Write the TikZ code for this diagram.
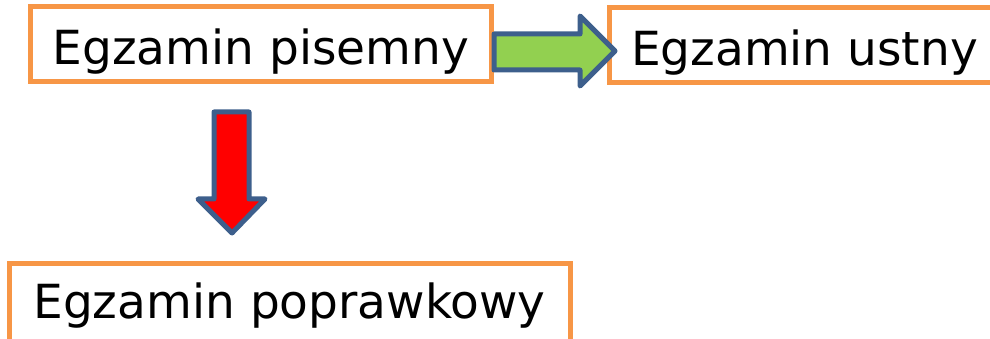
\documentclass[tikz,border=0pt]{standalone}
\usepackage{fontspec}
\setmainfont{DejaVu Sans}
\usepackage{tikz}
\usetikzlibrary{positioning}
\definecolor{boxorange}{HTML}{F79646}
\definecolor{arrowgreen}{HTML}{92D050}
\definecolor{arrowblue}{HTML}{3D5F8C}
\tikzset{
  exambox/.style={draw=boxorange,line width=5pt,fill=white,inner sep=0pt,font=\fontsize{47}{56}\selectfont},
  blockarrow/.style={draw=arrowblue,line width=5pt,line join=round}
}
\begin{document}
\begin{tikzpicture}[x=1pt,y=-1pt]
\useasboundingbox (0,0) rectangle (990,339);
%%
\node (pisemny) at (260.75,44.5) [exambox,minimum width=461.5pt,minimum height=75pt,text height=47pt,text depth=6pt] {Egzamin pisemny};
  \node (ustny) at (804.5,45.25) [exambox,minimum width=391pt,minimum height=75.5pt,text height=47pt,text depth=7pt] {Egzamin ustny};
  \node (poprawkowy) at (289.5,304) [exambox,minimum width=561pt,minimum height=81pt,text height=41pt,text depth=12pt] {Egzamin poprawkowy};
  \draw [blockarrow,fill=arrowgreen] (494,34) -- (580,34) -- (580,16) -- (615,51) -- (580,86) -- (580,70) -- (494,70) -- cycle;
  \draw [blockarrow,fill=red] (214,112) -- (249,112) -- (249,199) -- (265,199) -- (232,233) -- (198,199) -- (214,199) -- cycle;
%
\end{tikzpicture}
\end{document}
